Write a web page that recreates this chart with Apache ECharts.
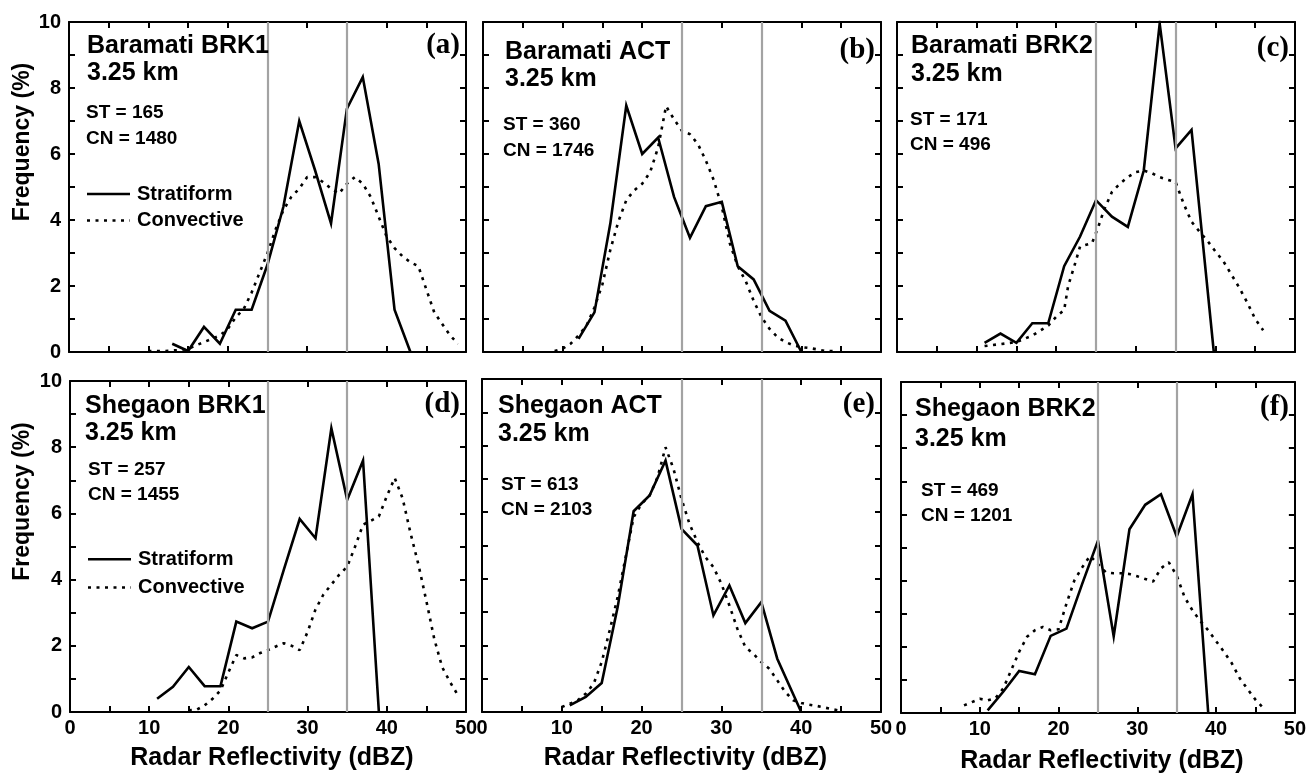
<!DOCTYPE html>
<html>
<head>
<meta charset="utf-8">
<title>Radar reflectivity distributions at 3.25 km</title>
<script src="https://cdn.jsdelivr.net/npm/echarts@6/dist/echarts.min.js"></script>
<style>
  html, body { margin: 0; padding: 0; background: #ffffff; }
  #chart { width: 1309px; height: 775px; }
</style>
</head>
<body>
<div id="chart"></div>
<script>
// Frequency (%) of radar reflectivity (dBZ) at 3.25 km, pairs of [dBZ, %]
const baramatiBrk1Strat = [[13,0.25],[15,0.03],[17,0.76],[19,0.25],[21,1.28],[23,1.28],[25,2.65],[27,4.4],[29,7.0],[31,5.5],[33,3.9],[35,7.37],[37,8.33],[39,5.7],[41,1.28],[43,0]];
const baramatiBrk1Conv = [[10,0.03],[12,0.03],[14,0.06],[15,0.1],[16,0.2],[17,0.3],[18,0.4],[19,0.5],[20,0.7],[21,1.05],[22,1.3],[23,1.8],[24,2.4],[25,3.0],[26,3.7],[27,4.3],[28,4.7],[29,4.95],[30,5.3],[31,5.3],[32,5.15],[33,4.95],[34,4.8],[35,5.1],[36,5.3],[37,5.1],[38,4.7],[39,4.1],[40,3.5],[41,3.15],[42,2.9],[43,2.72],[44,2.6],[45,1.9],[46,1.2],[47,0.85],[48,0.5],[49,0.25]];

const baramatiActStrat = [[12,0.4],[14,1.2],[16,3.9],[18,7.47],[20,6.0],[22,6.5],[24,4.7],[26,3.46],[28,4.42],[30,4.55],[32,2.6],[34,2.2],[36,1.25],[38,0.95],[40,0]];
const baramatiActConv = [[9,0.03],[10,0.1],[11,0.25],[12,0.5],[13,0.8],[14,1.35],[15,2.05],[16,3.1],[17,3.95],[18,4.6],[19,4.9],[20,5.1],[21,5.45],[22,6.2],[23,7.45],[24,7.05],[25,6.7],[26,6.6],[27,6.3],[28,5.8],[29,5.2],[30,4.4],[31,3.3],[32,2.6],[33,2.15],[34,1.55],[35,1.05],[36,0.7],[37,0.45],[38,0.3],[39,0.2],[40,0.15],[41,0.12],[42,0.08],[43,0.03],[44,0.03]];

const baramatiBrk2Strat = [[11,0.28],[13,0.56],[15,0.28],[17,0.87],[19,0.87],[21,2.6],[23,3.5],[25,4.6],[27,4.1],[29,3.79],[31,5.5],[33,9.95],[35,6.17],[37,6.73],[39.8,0]];
const baramatiBrk2Conv = [[11,0.18],[13,0.24],[15,0.3],[17,0.5],[19,0.8],[20,1.07],[21,1.27],[21.5,2.0],[22.4,2.7],[23,3.2],[24.5,3.3],[25.3,3.8],[26,4.3],[27,4.85],[28,5.1],[29,5.3],[30,5.45],[31,5.5],[32,5.42],[33,5.3],[34,5.22],[35,5.15],[36,4.5],[37,3.95],[38,3.65],[39,3.37],[40,3.05],[41,2.75],[42,2.35],[43,1.95],[44,1.5],[45,1.0],[46,0.66]];

const shegaonBrk1Strat = [[11,0.4],[13,0.76],[15,1.36],[17,0.78],[19,0.78],[21,2.73],[23,2.53],[25,2.73],[27,4.3],[29,5.83],[31,5.25],[33,8.57],[35,6.41],[37,7.6],[39,0]];
const shegaonBrk1Conv = [[15,0.05],[16,0.07],[17,0.2],[18,0.4],[19,0.65],[20,1.2],[21,1.72],[22,1.62],[23,1.65],[24,1.78],[25,1.87],[26,1.98],[27,2.08],[28,2.0],[29,1.87],[30,2.42],[31,3.1],[32,3.55],[33,3.85],[34,4.15],[35,4.39],[36,5.0],[37,5.66],[38,5.78],[39,5.91],[40,6.52],[41,7.07],[42,6.45],[43,5.4],[44,4.45],[45,3.35],[46,2.2],[47,1.35],[48,0.9],[49,0.5]];

const shegaonActStrat = [[11,0.2],[13,0.45],[15,0.87],[17,3.15],[19,6.03],[21,6.5],[23,7.55],[25,5.5],[27,5.0],[29,2.9],[31,3.8],[33,2.67],[35,3.3],[37,1.6],[40,0]];
const shegaonActConv = [[10,0.15],[11,0.25],[12,0.35],[13,0.55],[14,0.85],[15,1.5],[16,2.45],[17,3.45],[18,4.65],[19,5.85],[20,6.25],[21,6.5],[22,7.05],[23,7.95],[24,7.3],[25,6.4],[26,5.65],[27,5.1],[28,4.65],[29,4.35],[30,3.85],[31,3.2],[32,2.5],[33,1.95],[34,1.75],[35,1.5],[36,1.3],[37,0.95],[38,0.6],[39,0.35],[40,0.27],[41,0.22],[42,0.18],[43,0.13],[44,0.08],[45,0.03]];

const shegaonBrk2Strat = [[11,0.08],[13,0.65],[15,1.27],[17,1.17],[19,2.33],[21,2.55],[23,3.9],[25,5.2],[27,2.32],[29,5.55],[31,6.29],[33,6.61],[35,5.33],[37,6.61],[39,0]];
const shegaonBrk2Conv = [[8,0.23],[9,0.33],[10,0.43],[11,0.38],[12,0.45],[13,0.75],[14,1.3],[15,1.85],[16,2.3],[17,2.5],[18,2.6],[19,2.5],[20,2.53],[21,3.3],[22,4.0],[23,4.4],[24,4.75],[25,4.5],[26,4.25],[27,4.22],[28,4.22],[29,4.2],[30,4.13],[31,4.05],[32,3.97],[33,4.37],[34,4.55],[35,4.15],[36,3.5],[37,3.1],[38,2.78],[39,2.5],[40,2.17],[41,1.85],[42,1.5],[43,1.05],[44,0.72],[45,0.4],[46,0.15]];

// Panel annotations
const panelSites = ['Baramati BRK1', 'Baramati ACT', 'Baramati BRK2', 'Shegaon BRK1', 'Shegaon ACT', 'Shegaon BRK2'];
const panelHeight = '3.25 km';
const stCounts = [165, 360, 171, 257, 613, 469];
const cnCounts = [1480, 1746, 496, 1455, 2103, 1201];
const panelTags = ['(a)', '(b)', '(c)', '(d)', '(e)', '(f)'];
const seriesNames = ['Stratiform', 'Convective'];
const thresholds = [25, 35];

const stratData = [baramatiBrk1Strat, baramatiActStrat, baramatiBrk2Strat, shegaonBrk1Strat, shegaonActStrat, shegaonBrk2Strat];
const convData = [baramatiBrk1Conv, baramatiActConv, baramatiBrk2Conv, shegaonBrk1Conv, shegaonActConv, shegaonBrk2Conv];

// Plot boxes (pixels) and text offsets (vertical centres) inside each box
const boxes = [
  { left: 69,  top: 22,  width: 397, height: 330 },
  { left: 483, top: 22,  width: 398, height: 330 },
  { left: 897, top: 22,  width: 398, height: 330 },
  { left: 70,  top: 381, width: 396, height: 331 },
  { left: 482, top: 379, width: 399, height: 333 },
  { left: 901, top: 382, width: 394, height: 331 }
];
const textPos = [
  { tx: 18, t1: 24,   t2: 51,   sx: 17, s1: 90.5,  s2: 117,   tagY: 24 },
  { tx: 22, t1: 29.8, t2: 57.3, sx: 20, s1: 103,   s2: 129,   tagY: 29 },
  { tx: 14, t1: 24,   t2: 52.3, sx: 13, s1: 97.3,  s2: 123,   tagY: 27 },
  { tx: 15, t1: 25,   t2: 51.7, sx: 18, s1: 88.3,  s2: 113.3, tagY: 24 },
  { tx: 16, t1: 27,   t2: 55.3, sx: 19, s1: 105.3, s2: 130.3, tagY: 26 },
  { tx: 14, t1: 27.3, t2: 57.3, sx: 20, s1: 109,   s2: 134,   tagY: 26 }
];
const legendPos = { 0: { y1: 172, y2: 198.5 }, 3: { y1: 178.3, y2: 206.5 } };
const xTitleY = [758, 758, 761];

const SANS = "'Liberation Sans', Arial, Helvetica, sans-serif";
const SERIF = "'Liberation Serif', 'Times New Roman', serif";
const DOT = [3, 5.5];

const grid = [], xAxis = [], yAxis = [], series = [], graphic = [];

const txt = (s, x, y, font, align) => ({
  type: 'text', z: 10, silent: true,
  style: { text: s, x: x, y: y, font: font, fill: '#000',
    textAlign: align || 'left', align: align || 'left',
    textVerticalAlign: 'middle', verticalAlign: 'middle' }
});

boxes.forEach((b, i) => {
  grid.push({ left: b.left, top: b.top, width: b.width, height: b.height, containLabel: false });
  const bottomRow = i >= 3;
  const leftCol = i % 3 === 0;
  const frame = { show: true, onZero: false, lineStyle: { color: '#000', width: 2 } };
  const tick = { show: true, inside: true, length: 6, lineStyle: { color: '#000', width: 2 } };
  const xBase = { type: 'value', gridIndex: i, min: 0, max: 50, interval: 5,
    axisLine: frame, axisTick: tick, splitLine: { show: false } };
  const yBase = { type: 'value', gridIndex: i, min: 0, max: 10, interval: 1,
    axisLine: frame, axisTick: tick, splitLine: { show: false } };
  xAxis.push(Object.assign({}, xBase, { position: 'bottom',
    axisLabel: { show: bottomRow, margin: 6, color: '#000', fontFamily: SANS, fontWeight: 'bold', fontSize: 20,
      formatter: v => (v % 10 === 0 ? String(v) : '') } }));
  xAxis.push(Object.assign({}, xBase, { position: 'top', axisLabel: { show: false } }));
  yAxis.push(Object.assign({}, yBase, { position: 'left',
    axisLabel: { show: leftCol, margin: 8, color: '#000', fontFamily: SANS, fontWeight: 'bold', fontSize: 20,
      formatter: v => (v % 2 === 0 ? String(v) : '') } }));
  yAxis.push(Object.assign({}, yBase, { position: 'right', axisLabel: { show: false } }));

  const xi = 2 * i, yi = 2 * i;
  // threshold lines at 25 and 35 dBZ
  series.push({
    type: 'line', xAxisIndex: xi, yAxisIndex: yi, data: [], silent: true, z: 1,
    markLine: { silent: true, symbol: ['none', 'none'], label: { show: false },
      lineStyle: { color: '#a3a3a3', width: 2.2, type: 'solid' },
      emphasis: { disabled: true },
      data: thresholds.map(t => ({ xAxis: t })) }
  });
  series.push({
    name: seriesNames[1], type: 'line', xAxisIndex: xi, yAxisIndex: yi, data: convData[i],
    showSymbol: false, symbol: 'none', silent: true, z: 2,
    lineStyle: { color: '#000', width: 2.6, type: DOT, cap: 'butt' }
  });
  series.push({
    name: seriesNames[0], type: 'line', xAxisIndex: xi, yAxisIndex: yi, data: stratData[i],
    showSymbol: false, symbol: 'none', silent: true, z: 3,
    lineStyle: { color: '#000', width: 2.6, type: 'solid', join: 'miter' }
  });

  const p = textPos[i];
  graphic.push(txt(panelSites[i], b.left + p.tx, b.top + p.t1, 'bold 25px ' + SANS));
  graphic.push(txt(panelHeight, b.left + p.tx, b.top + p.t2, 'bold 25px ' + SANS));
  graphic.push(txt('ST = ' + stCounts[i], b.left + p.sx, b.top + p.s1, 'bold 19px ' + SANS));
  graphic.push(txt('CN = ' + cnCounts[i], b.left + p.sx, b.top + p.s2, 'bold 19px ' + SANS));
  graphic.push(txt(panelTags[i], b.left + b.width - 6, b.top + p.tagY, 'bold 29px ' + SERIF, 'right'));

  const lg = legendPos[i];
  if (lg) {
    const x0 = b.left + 18, x1 = b.left + 61, tx = b.left + 68;
    graphic.push({ type: 'line', z: 10, silent: true,
      shape: { x1: x0, y1: b.top + lg.y1, x2: x1, y2: b.top + lg.y1 },
      style: { stroke: '#000', lineWidth: 2.6 } });
    graphic.push({ type: 'line', z: 10, silent: true,
      shape: { x1: x0, y1: b.top + lg.y2, x2: x1, y2: b.top + lg.y2 },
      style: { stroke: '#000', lineWidth: 2.6, lineDash: DOT } });
    graphic.push(txt(seriesNames[0], tx, b.top + lg.y1, 'bold 20px ' + SANS));
    graphic.push(txt(seriesNames[1], tx, b.top + lg.y2, 'bold 20px ' + SANS));
  }

  if (bottomRow) {
    graphic.push(txt('Radar Reflectivity (dBZ)', b.left + b.width / 2 + 4, xTitleY[i - 3], 'bold 25px ' + SANS, 'center'));
  }
  if (leftCol) {
    graphic.push({ type: 'text', z: 10, silent: true,
      x: 23, y: b.top + b.height / 2 - 45, rotation: Math.PI / 2,
      style: { text: 'Frequency (%)', x: 0, y: 0, font: 'bold 23px ' + SANS, fill: '#000',
        textAlign: 'center', align: 'center', textVerticalAlign: 'middle', verticalAlign: 'middle' } });
  }
});

const chart = echarts.init(document.getElementById('chart'), null, { renderer: 'canvas' });
chart.setOption({
  backgroundColor: '#ffffff',
  animation: false,
  grid: grid,
  xAxis: xAxis,
  yAxis: yAxis,
  series: series,
  graphic: graphic
});
</script>
</body>
</html>
